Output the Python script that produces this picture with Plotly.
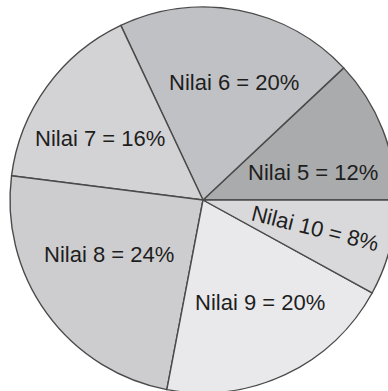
import math
import plotly.graph_objects as go

labels = ["Nilai 5", "Nilai 6", "Nilai 7", "Nilai 8", "Nilai 9", "Nilai 10"]
values = [12, 20, 16, 24, 20, 8]
colors = ["#aaabad", "#c0c1c4", "#d3d3d5", "#cdcdcf", "#e9e9eb", "#d9d9db"]

# label placement tweaks (angle offset in degrees, radius fraction)
label_tweak = [(-7.5, 0.59), (-4, 0.63), (5, 0.62), (-6, 0.56), (4, 0.61), (0, 0.60)]

W, H = 400, 400
cx, cy, R = 203, 200, 193  # pixel center / radius of the pie

total = sum(values)
# plotly's counterclockwise pies end the first slice at `rotation`;
# shift so the first slice starts at 3 o'clock
rot = 90 - 360.0 * values[0] / total

fig = go.Figure(go.Pie(
    labels=labels, values=values, sort=False, direction="counterclockwise",
    rotation=rot, textinfo="none", hoverinfo="label+percent",
    marker=dict(colors=colors, line=dict(color="#4a4a4a", width=1.4)),
    domain=dict(x=[(cx - R) / W, (cx + R) / W], y=[1 - (cy + R) / H, 1 - (cy - R) / H]),
    showlegend=False,
))

start = 0.0
annotations = []
for i, (lab, v) in enumerate(zip(labels, values)):
    span = 360.0 * v / total
    mid = start + span / 2
    start += span
    da, rf = label_tweak[i]
    ang = math.radians(mid + da)
    px = cx + rf * R * math.cos(ang)
    py = cy - rf * R * math.sin(ang)
    tangle = 14 if lab == "Nilai 10" else 0
    annotations.append(dict(
        x=px / W, y=1 - py / H, xref="paper", yref="paper",
        text=f"{lab} = {round(100 * v / total)}%", showarrow=False,
        textangle=tangle,
        font=dict(family="Liberation Sans, Arial", size=22, color="#1e1e1e"),
        xanchor="center", yanchor="middle",
    ))

fig.update_layout(
    width=W, height=H, margin=dict(l=0, r=0, t=0, b=0),
    paper_bgcolor="white", plot_bgcolor="white",
    annotations=annotations,
)

fig.write_html("out.html", config={"displayModeBar": False},
               post_script="document.body.style.overflow='hidden';document.body.style.margin='0';")
